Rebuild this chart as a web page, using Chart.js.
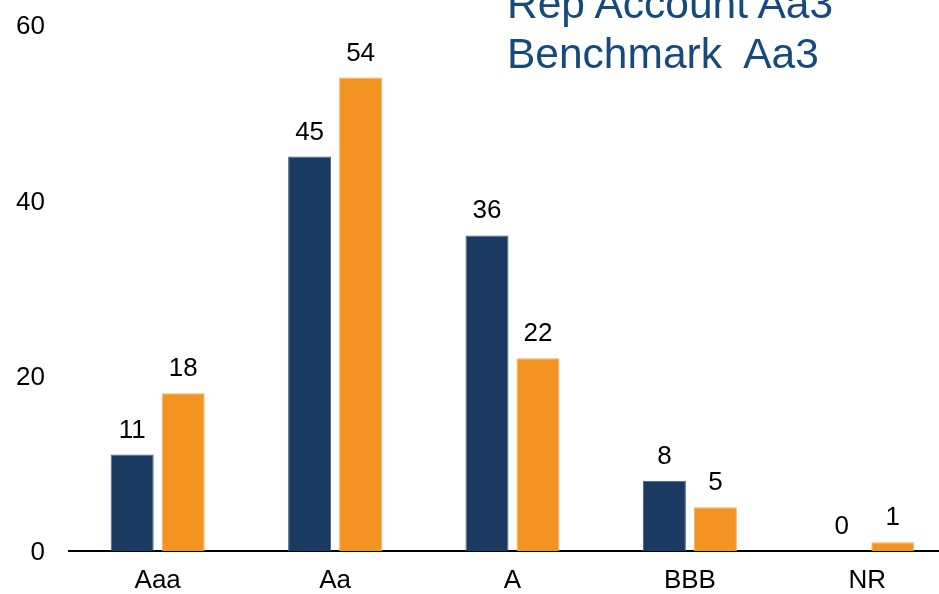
<!DOCTYPE html>
<html>
<head>
<meta charset="utf-8">
<script src="https://cdn.jsdelivr.net/npm/chart.js@4/dist/chart.umd.min.js"></script>
<style>
    html, body {
        margin: 0;
        padding: 0;
        width: 939px;
        height: 594px;
        overflow: hidden;
        background: #ffffff;
    }
    #wrap {
        position: absolute;
        left: 0;
        top: 0;
        width: 956px;
        height: 594px;
    }
    #ratingNote {
        position: absolute;
        left: 507px;
        top: -21px;
        font-family: "Liberation Sans", Arial, sans-serif;
        font-size: 42.5px;
        line-height: 50px;
        color: #174a7c;
        white-space: pre;
    }
</style>
</head>
<body>
<div id="wrap">
    <canvas id="ratingChart" width="956" height="594"></canvas>
</div>
<div id="ratingNote">Rep Account Aa3
Benchmark  Aa3</div>

<script>
// Credit quality breakdown (%)
const ratings = ['Aaa', 'Aa', 'A', 'BBB', 'NR'];
const repAccount = [11, 45, 36, 8, 0];
const benchmark = [18, 54, 22, 5, 1];
const yTicks = [0, 20, 40, 60];

const FONT = '"Liberation Sans", Arial, sans-serif';

// draws the value above every bar
const valueLabels = {
    id: 'valueLabels',
    afterDatasetsDraw(chart) {
        const ctx = chart.ctx;
        ctx.save();
        ctx.font = '26px ' + FONT;
        ctx.fillStyle = '#000000';
        ctx.textAlign = 'center';
        ctx.textBaseline = 'alphabetic';
        chart.data.datasets.forEach((ds, i) => {
            const meta = chart.getDatasetMeta(i);
            meta.data.forEach((bar, j) => {
                ctx.fillText(String(ds.data[j]), bar.x, bar.y - 17);
            });
        });
        ctx.restore();
    }
};

new Chart(document.getElementById('ratingChart'), {
    type: 'bar',
    data: {
        labels: ratings,
        datasets: [
            {
                label: 'Rep Account',
                data: repAccount,
                backgroundColor: '#1b3a62',
                borderColor: '#4a6486',
                borderWidth: 1,
                categoryPercentage: 0.575,
                barPercentage: 0.843
            },
            {
                label: 'Benchmark',
                data: benchmark,
                backgroundColor: '#f39321',
                borderColor: '#f6b25f',
                borderWidth: 1,
                categoryPercentage: 0.575,
                barPercentage: 0.843
            }
        ]
    },
    options: {
        responsive: false,
        animation: false,
        layout: {
            padding: { top: 25, right: 0, bottom: 0, left: 0 }
        },
        plugins: {
            legend: { display: false },
            tooltip: { enabled: false }
        },
        scales: {
            x: {
                grid: { display: false, drawTicks: false },
                border: { display: true, color: '#000000', width: 2 },
                ticks: {
                    color: '#000000',
                    padding: 14,
                    font: { size: 26, family: FONT }
                },
                afterFit(scale) {
                    scale.height = 43;
                }
            },
            y: {
                min: 0,
                max: 60,
                afterBuildTicks(scale) {
                    scale.ticks = yTicks.map(v => ({ value: v }));
                },
                grid: { display: false, drawTicks: false },
                border: { display: false },
                ticks: {
                    color: '#000000',
                    padding: 24,
                    labelOffset: 2,
                    font: { size: 26, family: FONT }
                },
                afterFit(scale) {
                    // fixed axis width; tick padding shouldn't push the plot down
                    scale.width = 69;
                    scale.paddingTop = 0;
                    scale.paddingBottom = 0;
                }
            }
        }
    },
    plugins: [valueLabels]
});
</script>
</body>
</html>
